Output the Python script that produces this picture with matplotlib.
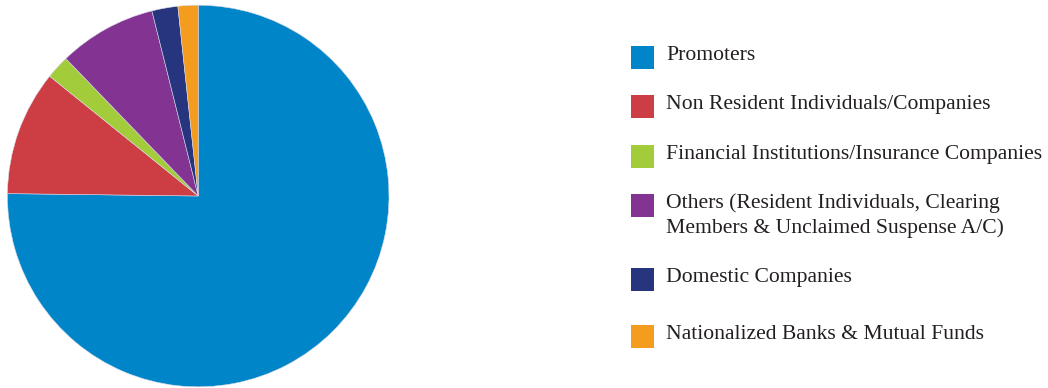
import matplotlib
matplotlib.use("Agg")
import matplotlib.pyplot as plt
from matplotlib.patches import Rectangle

# shareholding pattern (% of total shares)
categories = [
    "Promoters",
    "Non Resident Individuals/Companies",
    "Financial Institutions/Insurance Companies",
    "Others (Resident Individuals, Clearing\nMembers & Unclaimed Suspense A/C)",
    "Domestic Companies",
    "Nationalized Banks & Mutual Funds",
]
shares = [75.2, 10.6, 2.0, 8.3, 2.2, 1.7]
colors = ["#0085C8", "#CC3D44", "#A3CC3A", "#833493", "#27347E", "#F39C1E"]

W, H = 1048, 388
fig = plt.figure(figsize=(W / 100, H / 100), dpi=100)

# pie
cx, cy, r = 198.2, 196.0, 190.8
ax = fig.add_axes([(cx - r) / W, (H - cy - r) / H, 2 * r / W, 2 * r / H])
ax.pie(shares, colors=colors, startangle=90, counterclock=False,
       wedgeprops=dict(edgecolor="#d8d8e8", linewidth=0.4))
ax.set_xlim(-1, 1)
ax.set_ylim(-1, 1)
ax.set_aspect("equal")
ax.axis("off")

# legend drawn by hand, rows in pixel coords from the top
row_y = [57.3, 106.3, 156.3, 205.3, 279.3, 336.3]
sq = 23
text_x = 666
line_gap = 25.5
for lab, col, y in zip(categories, colors, row_y):
    fig.add_artist(Rectangle(((W - 417) / W, (H - y - sq / 2) / H), sq / W, sq / H,
                             transform=fig.transFigure, facecolor=col, edgecolor="none"))
    for i, line in enumerate(lab.split("\n")):
        base = y + 2.7 + i * line_gap
        fig.text(text_x / W, (H - base) / H, line, family="Liberation Serif",
                 fontsize=15.55, color="#231f20", va="baseline", ha="left")

fig.savefig("out.png", dpi=100)
